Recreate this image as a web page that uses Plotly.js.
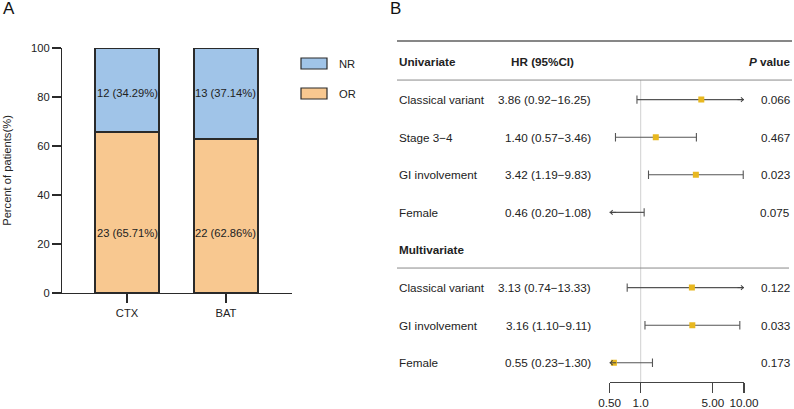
<!DOCTYPE html>
<html>
<head>
<meta charset="utf-8">
<script src="https://cdn.plot.ly/plotly-3.0.1.min.js"></script>
<style>html,body{margin:0;padding:0;background:#fff;}#chart{width:794px;height:409px;}</style>
</head>
<body>
<div id="chart"></div>
<script>
// ---------- Panel A data ----------
const groups = ['CTX', 'BAT'];
const orCounts = [23, 22];
const orPct = [65.71, 62.86];
const nrCounts = [12, 13];
const nrPct = [34.29, 37.14];
const seriesNames = ['NR', 'OR'];

// ---------- Panel B data ----------
const uniVars = ['Classical variant', 'Stage 3\u22124', 'GI involvement', 'Female'];
const uniHR = [3.86, 1.40, 3.42, 0.46];
const uniLo = [0.92, 0.57, 1.19, 0.20];
const uniHi = [16.25, 3.46, 9.83, 1.08];
const uniP = ['0.066', '0.467', '0.023', '0.075'];

const multiVars = ['Classical variant', 'GI involvement', 'Female'];
const multiHR = [3.13, 3.16, 0.55];
const multiLo = [0.74, 1.10, 0.23];
const multiHi = [13.33, 9.11, 1.30];
const multiP = ['0.122', '0.033', '0.173'];

const hrTicks = [0.5, 1, 5, 10];
const hrTickText = ['0.50', '1.0', '5.00', '10.00'];

// ---------- geometry helpers ----------
const W = 794, H = 409;
const px = v => v / W;
const py = v => 1 - v / H;
const FONT = 'Liberation Sans, Arial, sans-serif';
const TXT = '#222';
const fsA = 11.2, fsB = 11.7;

const cNR = '#A0C4E8', cOR = '#F8C890', cEdge = '#2a2a2a';
const cGold = '#E8B820', cCI = '#555555';

const traces = [];
const annotations = [];
const shapes = [];

// Panel A bars
traces.push({
  type: 'bar', x: groups, y: orPct, name: seriesNames[1], width: 0.646,
  marker: {color: cOR, line: {color: cEdge, width: 1.2}},
  xaxis: 'x', yaxis: 'y', showlegend: false, hoverinfo: 'skip'
});
traces.push({
  type: 'bar', x: groups, y: nrPct, name: seriesNames[0], width: 0.646,
  marker: {color: cNR, line: {color: cEdge, width: 1.2}},
  xaxis: 'x', yaxis: 'y', showlegend: false, hoverinfo: 'skip'
});
groups.forEach((g, i) => {
  annotations.push({xref: 'x', yref: 'y', x: g, y: 81.6, text: nrCounts[i] + ' (' + nrPct[i].toFixed(2) + '%)',
    showarrow: false, font: {family: FONT, size: fsA, color: TXT}});
  annotations.push({xref: 'x', yref: 'y', x: g, y: 24.5, text: orCounts[i] + ' (' + orPct[i].toFixed(2) + '%)',
    showarrow: false, font: {family: FONT, size: fsA, color: TXT}});
});
// manual legend for panel A
const legendItems = [{name: seriesNames[0], color: cNR, y: 63.5}, {name: seriesNames[1], color: cOR, y: 93.5}];
legendItems.forEach(it => {
  shapes.push({type: 'rect', xref: 'paper', yref: 'paper', x0: px(301), x1: px(327), y0: py(it.y - 5.5), y1: py(it.y + 5.5),
    fillcolor: it.color, line: {color: cEdge, width: 1.2}});
  annotations.push({xref: 'paper', yref: 'paper', x: px(337), y: py(it.y), xanchor: 'left', yanchor: 'middle',
    text: it.name, showarrow: false, font: {family: FONT, size: fsA, color: TXT}});
});

// Panel B rows
const uniRows = uniVars.map((_, i) => 1 + i);
const multiRows = multiVars.map((_, i) => 6 + i);
const xMin = 0.5, xMax = 10;

function addRows(vars, hr, lo, hi, p, rows) {
  vars.forEach((v, i) => {
    const r = rows[i];
    traces.push({
      type: 'scatter', mode: 'lines+markers', x: [lo[i], hi[i]], y: [r, r],
      line: {color: cCI, width: 1.1},
      marker: {symbol: 'line-ns-open', size: 6, line: {color: cCI, width: 1.1}, color: cCI},
      xaxis: 'x2', yaxis: 'y2', showlegend: false, hoverinfo: 'skip', cliponaxis: true
    });
    if (hi[i] > xMax) {
      annotations.push({xref: 'x2', yref: 'y2', x: Math.log10(xMax), y: r, ax: -8, ay: 0, axref: 'pixel', ayref: 'pixel',
        showarrow: true, arrowhead: 4, arrowsize: 0.9, arrowwidth: 1, arrowcolor: '#444', text: ''});
    }
    if (lo[i] < xMin) {
      annotations.push({xref: 'x2', yref: 'y2', x: Math.log10(xMin), y: r, ax: 8, ay: 0, axref: 'pixel', ayref: 'pixel',
        showarrow: true, arrowhead: 4, arrowsize: 0.9, arrowwidth: 1, arrowcolor: '#444', text: ''});
    }
    annotations.push({xref: 'paper', yref: 'y2', x: px(397), y: r, xanchor: 'left', text: v, showarrow: false,
      font: {family: FONT, size: fsB, color: TXT}});
    annotations.push({xref: 'paper', yref: 'y2', x: px(592.5), y: r, xanchor: 'right',
      text: hr[i].toFixed(2) + ' (' + lo[i].toFixed(2) + '\u2212' + hi[i].toFixed(2) + ')', showarrow: false,
      font: {family: FONT, size: fsB, color: TXT}});
    annotations.push({xref: 'paper', yref: 'y2', x: px(792), y: r, xanchor: 'right', text: p[i], showarrow: false,
      font: {family: FONT, size: fsB, color: TXT}});
  });
  traces.push({
    type: 'scatter', mode: 'markers', x: hr, y: rows,
    marker: {symbol: 'square', size: 6, color: cGold},
    xaxis: 'x2', yaxis: 'y2', showlegend: false, hoverinfo: 'skip', cliponaxis: true
  });
}
addRows(uniVars, uniHR, uniLo, uniHi, uniP, uniRows);
addRows(multiVars, multiHR, multiLo, multiHi, multiP, multiRows);

// headers
annotations.push({xref: 'paper', yref: 'y2', x: px(397), y: 0, xanchor: 'left', text: '<b>Univariate</b>', showarrow: false,
  font: {family: FONT, size: fsB, color: TXT}});
annotations.push({xref: 'paper', yref: 'y2', x: px(509), y: 0, xanchor: 'left', text: '<b>HR (95%CI)</b>', showarrow: false,
  font: {family: FONT, size: fsB, color: TXT}});
annotations.push({xref: 'paper', yref: 'y2', x: px(792), y: 0, xanchor: 'right', text: '<b><i>P</i> value</b>', showarrow: false,
  font: {family: FONT, size: fsB, color: TXT}});
annotations.push({xref: 'paper', yref: 'y2', x: px(397), y: 5, xanchor: 'left', text: '<b>Multivariate</b>', showarrow: false,
  font: {family: FONT, size: fsB, color: TXT}});

// panel letters
annotations.push({xref: 'paper', yref: 'paper', x: px(1), y: py(-3), xanchor: 'left', yanchor: 'top', text: 'A', showarrow: false,
  font: {family: FONT, size: 17, color: '#111'}});
annotations.push({xref: 'paper', yref: 'paper', x: px(388), y: py(-3), xanchor: 'left', yanchor: 'top', text: 'B', showarrow: false,
  font: {family: FONT, size: 17, color: '#111'}});

// table lines
const y2Top = -0.5585, y2Bot = 8.511;
shapes.push({type: 'line', xref: 'paper', yref: 'paper', x0: px(397), x1: px(792), y0: py(41), y1: py(41), line: {color: '#111', width: 1.2}});
shapes.push({type: 'line', xref: 'paper', yref: 'y2', x0: px(397), x1: px(792), y0: 0.48, y1: 0.48, line: {color: '#8a8a8a', width: 1}});
shapes.push({type: 'line', xref: 'paper', yref: 'y2', x0: px(397), x1: px(789), y0: 5.48, y1: 5.48, line: {color: '#8a8a8a', width: 1}});
shapes.push({type: 'line', xref: 'x2', yref: 'y2', x0: 1, x1: 1, y0: 0.48, y1: y2Bot, line: {color: '#d0d0d0', width: 1}, layer: 'below'});

const layout = {
  width: W, height: H,
  margin: {l: 0, r: 0, t: 0, b: 0},
  paper_bgcolor: '#fff', plot_bgcolor: 'rgba(0,0,0,0)',
  barmode: 'stack',
  font: {family: FONT, size: fsA, color: TXT},
  xaxis: {
    domain: [px(52), px(292)], range: [-0.758, 1.667], type: 'category', anchor: 'y',
    showline: true, linecolor: cEdge, linewidth: 1.3, ticks: 'outside', ticklen: 9, tickwidth: 1.3, tickcolor: cEdge,
    showgrid: false, zeroline: false, automargin: false, fixedrange: true,
    tickfont: {family: FONT, size: fsA, color: TXT}
  },
  yaxis: {
    domain: [py(293), py(48)], range: [0, 100], anchor: 'free', position: px(61),
    showline: true, linecolor: cEdge, linewidth: 1.3, ticks: 'outside', ticklen: 9, tickwidth: 1.3, tickcolor: cEdge,
    dtick: 20, showgrid: false, zeroline: false, automargin: false, fixedrange: true,
    tickfont: {family: FONT, size: fsA, color: TXT},
    title: {text: 'Percent of patients(%)', font: {family: FONT, size: fsA, color: TXT}, standoff: 16}
  },
  xaxis2: {
    domain: [px(609.6), px(744)], type: 'log', range: [Math.log10(xMin), Math.log10(xMax)], anchor: 'y2',
    tickvals: hrTicks, ticktext: hrTickText,
    showline: true, linecolor: '#444', linewidth: 1.1, ticks: 'outside', ticklen: 10, tickwidth: 1.1, tickcolor: '#444',
    showgrid: false, zeroline: false, automargin: false, fixedrange: true,
    tickfont: {family: FONT, size: fsB, color: TXT}
  },
  yaxis2: {
    domain: [py(382), py(41)], range: [y2Bot, y2Top], anchor: 'x2', visible: false, fixedrange: true
  },
  shapes: shapes,
  annotations: annotations
};

Plotly.newPlot('chart', traces, layout, {staticPlot: true, displayModeBar: false});
</script>
</body>
</html>
